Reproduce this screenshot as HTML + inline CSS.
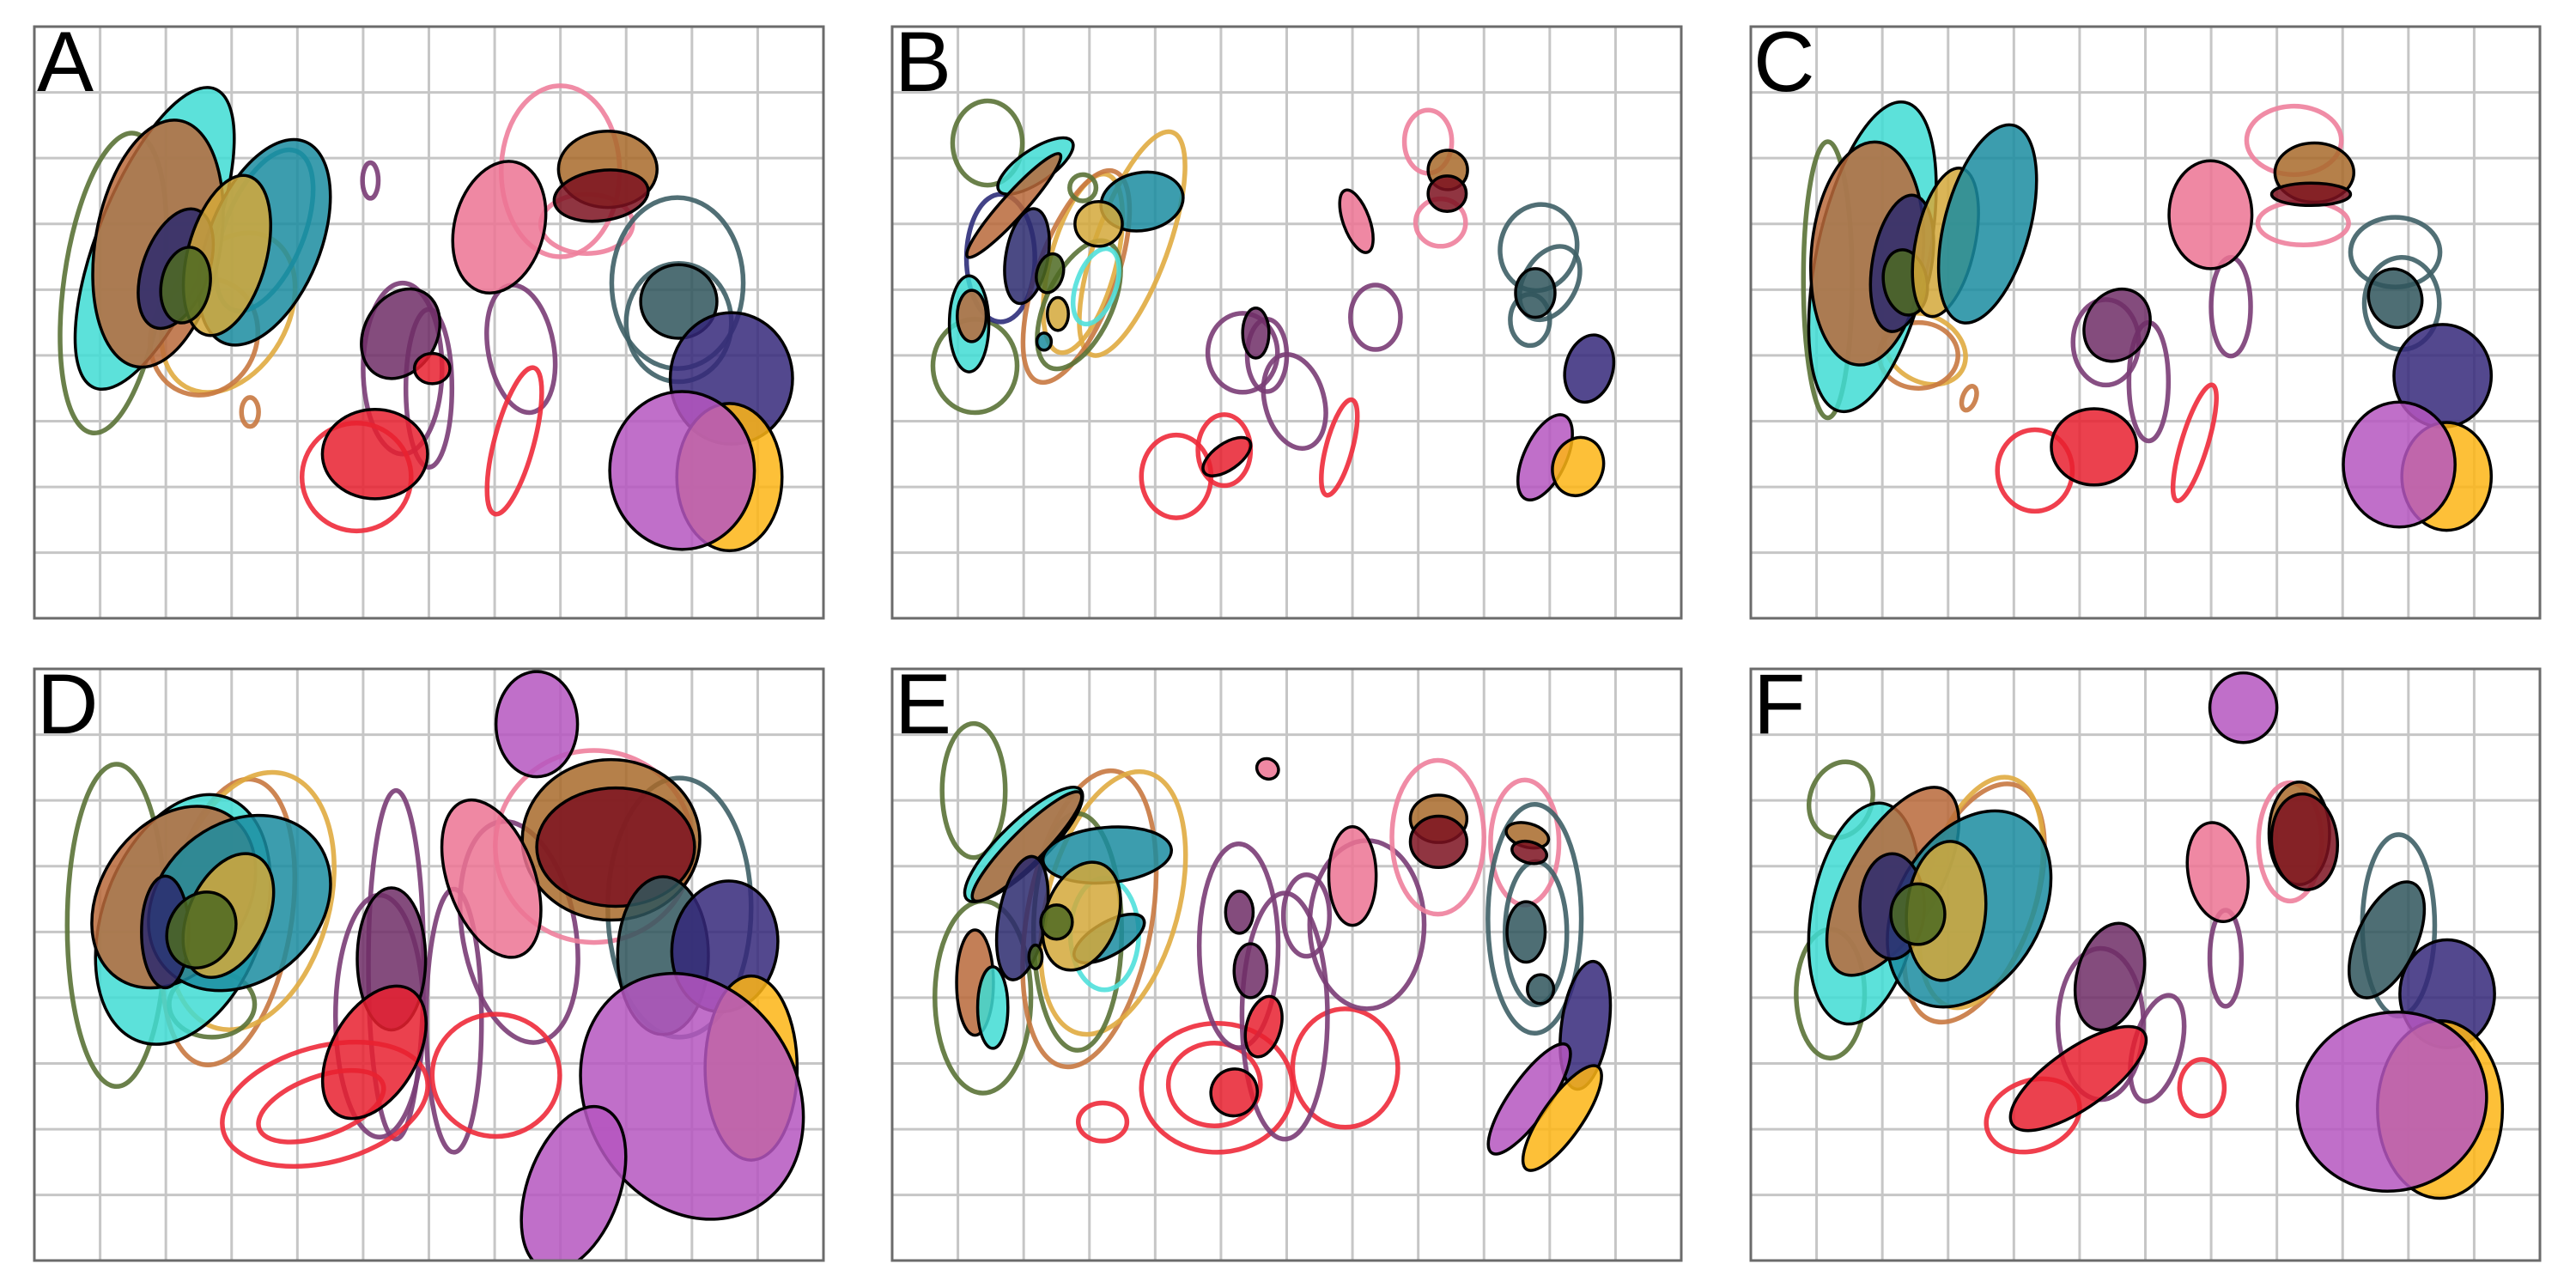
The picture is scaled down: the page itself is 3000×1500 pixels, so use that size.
<!DOCTYPE html>
<html><head><meta charset="utf-8"><style>
html,body{margin:0;padding:0;background:#fff;}
svg{display:block;}
</style></head><body>
<svg id="fig" xmlns="http://www.w3.org/2000/svg" width="3000" height="1500" viewBox="0 0 3000 1500">
<rect width="3000" height="1500" fill="#fff"/>
</svg>
<script>
// Blob data per panel: [color, cx, cy, rx, ry, rotationDeg] in grid units (12 x 9 grid)
const panelLabels = ["A","B","C","D","E","F"];
const panelA_fill = [
 ["cy",1.83,3.22,0.85,2.45,22],["br",1.88,3.3,0.95,1.9,10],["te",3.5,3.28,0.85,1.65,22],
 ["nv",2.15,3.68,0.5,0.95,20],["go",2.93,3.48,0.6,1.25,15],["ol",2.3,3.93,0.37,0.58,10],
 ["pu",5.57,4.67,0.55,0.72,30],["rd",6.05,5.2,0.27,0.23,0],["rd",5.18,6.5,0.8,0.68,0],
 ["pk",7.07,3.05,0.68,1.02,15],["tb",8.72,2.17,0.75,0.58,0],["dr",8.62,2.57,0.72,0.38,-8],
 ["sl",9.8,4.18,0.58,0.56,0],["sb",10.6,5.35,0.93,1.0,0],["gd",10.57,6.85,0.8,1.12,0],["or",9.85,6.75,1.1,1.2,0]];
const panelA_line = [
 ["ol",1.2,3.9,0.75,2.3,8],["go",2.95,4.35,0.9,1.3,30],["cp",2.58,4.72,0.8,0.9,25],["te",3.5,3.1,0.6,1.3,22],
 ["cp",3.28,5.86,0.13,0.22,0],["pu",5.11,2.34,0.12,0.27,0],["pu",5.6,5.2,0.6,1.3,0],["pu",6.0,5.5,0.35,1.2,0],
 ["pu",7.4,4.9,0.5,0.98,-10],["rd",4.9,6.85,0.83,0.82,0],["rd",7.3,6.3,0.3,1.15,15],
 ["pk",8.0,2.2,0.9,1.3,0],["pk",8.4,3.0,0.7,0.45,0],["sl",9.78,3.9,1.0,1.3,0],["sl",9.8,4.5,0.8,0.9,0]];
const panelB_fill = [
 ["cy",2.18,2.12,0.67,0.25,-34],["br",1.85,2.72,1.05,0.18,-48],["nv",2.05,3.49,0.32,0.73,10],
 ["cy",1.17,4.52,0.3,0.73,0],["br",1.21,4.4,0.22,0.39,0],["ol",2.4,3.75,0.2,0.3,15],
 ["go",2.52,4.37,0.16,0.25,0],["te",2.31,4.79,0.11,0.13,0],["te",3.8,2.66,0.63,0.44,-10],["go",3.14,3.0,0.36,0.34,0],
 ["tb",8.45,2.18,0.3,0.3,0],["dr",8.44,2.54,0.29,0.27,0],["pk",7.06,2.96,0.2,0.5,-20],["pu",5.53,4.66,0.2,0.38,0],
 ["rd",5.09,6.54,0.42,0.2,-35],["sl",9.78,4.05,0.3,0.37,0],["sb",10.6,5.2,0.36,0.52,15],
 ["or",9.93,6.55,0.32,0.7,25],["gd",10.43,6.69,0.38,0.45,20]];
const panelB_line = [
 ["ol",1.45,1.77,0.53,0.64,0],["ol",1.26,5.16,0.64,0.71,0],["nv",1.65,3.52,0.52,0.97,0],
 ["go",3.65,3.3,0.55,1.8,20],["go",2.9,3.6,0.5,1.4,15],["cp",2.8,3.8,0.6,1.7,20],["ol",2.84,4.23,0.5,1.05,25],
 ["cy",3.1,3.95,0.3,0.6,20],["ol",2.9,2.45,0.2,0.2,0],["pk",8.15,1.75,0.36,0.48,0],["pk",8.34,2.98,0.38,0.36,0],
 ["pu",5.33,4.96,0.53,0.6,0],["pu",5.7,5.0,0.3,0.55,0],["pu",6.12,5.7,0.45,0.73,-15],["pu",7.35,4.42,0.38,0.49,0],
 ["rd",4.32,6.84,0.53,0.63,0],["rd",5.05,6.44,0.4,0.54,0],["rd",6.8,6.4,0.2,0.75,15],
 ["sl",9.83,3.36,0.58,0.66,15],["sl",10.0,3.9,0.4,0.6,30],["sl",9.7,4.46,0.3,0.39,0]];
const panelC_fill = [
 ["cy",1.85,3.5,0.85,2.4,12],["br",1.77,3.45,0.85,1.7,5],["nv",2.3,3.6,0.45,1.05,10],["ol",2.35,3.89,0.33,0.5,-10],
 ["go",2.96,3.28,0.45,1.15,12],["te",3.6,3.0,0.65,1.55,15],["pk",6.99,2.86,0.63,0.82,0],["tb",8.57,2.22,0.6,0.45,0],
 ["dr",8.52,2.55,0.6,0.17,0],["pu",5.57,4.54,0.48,0.57,30],["rd",5.22,6.39,0.65,0.58,0],["sl",9.8,4.13,0.4,0.45,-20],
 ["sb",10.52,5.31,0.74,0.78,0],["gd",10.58,6.84,0.68,0.82,0],["or",9.86,6.66,0.85,0.95,0]];
const panelC_line = [
 ["ol",1.17,3.85,0.37,2.1,0],["go",2.65,4.9,0.65,0.5,30],["cp",2.55,5.0,0.6,0.5,0],["cp",3.32,5.65,0.1,0.19,20],
 ["pu",5.4,4.8,0.5,0.65,0],["pu",6.05,5.4,0.3,0.9,0],["pu",7.3,4.26,0.3,0.75,0],["rd",4.32,6.75,0.57,0.62,0],
 ["rd",6.75,6.33,0.2,0.92,17],["pk",8.26,1.73,0.72,0.52,0],["pk",8.4,2.99,0.69,0.33,0],
 ["sl",9.8,3.43,0.68,0.53,0],["sl",9.9,4.21,0.57,0.7,0]];
const panelD_fill = [
 ["cy",2.26,3.81,1.22,1.97,20],["br",2.12,3.47,1.1,1.5,35],["te",3.12,3.56,1.5,1.2,-40],["nv",1.99,4.0,0.36,0.85,0],
 ["go",2.95,3.75,0.6,1.0,25],["ol",2.54,3.97,0.5,0.6,30],["or",7.64,0.84,0.62,0.8,0],["tb",8.77,2.6,1.35,1.22,0],
 ["dr",8.84,2.71,1.2,0.9,0],["pk",6.95,3.19,0.66,1.25,-20],["pu",5.43,4.41,0.52,1.08,0],["rd",5.17,5.83,0.65,1.1,30],
 ["sl",9.56,4.36,0.69,1.2,0],["sb",10.5,4.22,0.8,1.0,10],["gd",10.9,6.07,0.7,1.4,0],
 ["or",10.0,6.5,1.6,1.95,-30],["or",8.2,7.9,0.7,1.3,20]];
const panelD_line = [
 ["ol",1.25,3.9,0.75,2.45,0],["cp",2.95,3.85,0.95,2.2,10],["go",3.29,3.53,1.2,2.0,15],["ol",2.7,5.1,0.65,0.5,0],
 ["pu",5.5,4.5,0.42,2.65,0],["pu",5.25,5.28,0.67,1.84,0],["pu",6.38,5.35,0.42,2.0,0],["pu",7.37,4.0,0.86,1.7,-10],
 ["rd",4.42,6.62,1.6,0.88,-15],["rd",4.36,6.65,1.0,0.45,-20],["rd",7.02,6.18,0.97,0.93,0],
 ["pk",8.51,2.7,1.5,1.46,0],["sl",9.81,3.63,1.09,1.97,0]];
const panelE_fill = [
 ["cy",2.0,2.67,1.2,0.35,-44],["br",2.05,2.7,1.15,0.25,-45],["nv",1.98,3.79,0.36,0.95,10],["te",3.27,2.83,0.98,0.42,-5],
 ["te",3.3,4.1,0.6,0.25,-30],["go",2.88,3.76,0.55,0.85,20],["ol",2.5,3.85,0.24,0.26,0],["ol",2.18,4.38,0.1,0.18,0],
 ["br",1.26,4.77,0.28,0.8,0],["cy",1.53,5.15,0.23,0.62,0],["pk",5.71,1.52,0.17,0.15,30],["pk",7.0,3.15,0.36,0.75,0],
 ["tb",8.31,2.28,0.43,0.36,0],["dr",8.31,2.63,0.43,0.39,0],["tb",9.66,2.53,0.33,0.18,15],["dr",9.69,2.79,0.27,0.16,15],
 ["pu",5.28,3.7,0.21,0.32,0],["pu",5.45,4.59,0.25,0.41,0],["rd",5.65,5.44,0.26,0.47,15],["rd",5.2,6.44,0.35,0.36,35],
 ["sl",9.64,4.0,0.29,0.46,0],["sl",9.86,4.87,0.2,0.22,0],["sb",10.54,5.42,0.36,0.98,8],
 ["or",9.69,6.54,0.3,1.0,35],["gd",10.19,6.83,0.3,0.95,35]];
const panelE_line = [
 ["ol",1.24,1.85,0.48,1.02,0],["ol",1.38,4.99,0.73,1.46,0],["cp",3.0,3.8,0.95,2.28,10],["go",3.36,3.56,1.0,2.05,15],
 ["ol",2.82,4.0,0.67,1.8,0],["cy",3.23,4.03,0.52,0.85,0],["rd",3.2,6.89,0.37,0.29,0],["rd",4.94,6.37,1.15,0.98,0],
 ["rd",4.9,6.32,0.7,0.63,0],["rd",6.89,6.07,0.8,0.9,0],["pu",5.27,4.21,0.6,1.55,0],["pu",5.97,5.28,0.65,1.87,0],
 ["pu",7.22,3.89,0.87,1.28,0],["pu",6.3,3.75,0.35,0.62,0],["pk",8.3,2.56,0.7,1.17,0],["pk",9.62,2.64,0.52,0.95,0],
 ["sl",9.77,3.8,0.71,1.74,0],["sl",9.79,4.02,0.47,1.09,0]];
const panelF_fill = [
 ["or",7.49,0.59,0.51,0.53,0],["cy",1.72,3.72,0.8,1.7,10],["br",2.16,3.23,0.7,1.6,30],["te",3.32,3.65,1.1,1.6,30],
 ["nv",2.15,3.61,0.49,0.8,0],["go",2.97,3.68,0.6,1.06,5],["ol",2.54,3.73,0.41,0.46,0],["pk",7.1,3.09,0.45,0.76,-10],
 ["tb",8.34,2.5,0.46,0.78,0],["dr",8.42,2.63,0.5,0.73,-5],["pu",5.46,4.68,0.5,0.83,15],["rd",4.98,6.23,1.22,0.45,-35],
 ["sl",9.67,4.12,0.45,0.95,25],["sb",10.59,4.94,0.72,0.82,0],["gd",10.48,6.7,0.95,1.35,0],["or",9.75,6.58,1.45,1.35,-20]];
const panelF_line = [
 ["ol",1.37,1.99,0.47,0.59,20],["ol",1.21,4.94,0.52,0.98,0],["cp",3.4,3.56,0.9,1.9,20],["go",3.5,3.4,0.85,1.8,15],
 ["pk",8.2,2.63,0.48,0.9,0],["pu",5.32,5.4,0.65,1.15,0],["pu",6.18,5.77,0.36,0.83,15],["pu",7.22,4.4,0.24,0.73,0],
 ["rd",4.29,6.79,0.73,0.53,-20],["rd",6.86,6.37,0.34,0.43,0],["sl",9.85,3.9,0.55,1.38,0]];

const fillColors = {cy:"#3FDCD4",br:"#B8693A",nv:"#2B2A6F",ol:"#4E6A22",go:"#D4A83A",te:"#1A8CA0",pu:"#6E2D66",
 rd:"#E8202F",pk:"#EC7393",tb:"#A86A2A",dr:"#7C1220",sl:"#2F555C",sb:"#35287A",or:"#B556C0",gd:"#FDB515"};
const lineColors = {ol:"#5A7236",cp:"#C87840",go:"#E0AB40",pu:"#7A3C76",rd:"#EE2A3A",pk:"#EE7F9C",sl:"#3E5F66",
 nv:"#2E2E7A",cy:"#50E0DC",te:"#1A8CA0"};

const panels = [
 {fill:panelA_fill,line:panelA_line},{fill:panelB_fill,line:panelB_line},{fill:panelC_fill,line:panelC_line},
 {fill:panelD_fill,line:panelD_line},{fill:panelE_fill,line:panelE_line},{fill:panelF_fill,line:panelF_line}];

const NS="http://www.w3.org/2000/svg";
const svg=document.getElementById('fig');
const X0=[40,1039,2039], Y0=[31,779], CELL=919/12, W=919, H=689;
function mk(t,a){const e=document.createElementNS(NS,t);for(const k in a)e.setAttribute(k,a[k]);return e;}
const defs=mk('defs',{});svg.appendChild(defs);

panels.forEach((p,i)=>{
  const ox=X0[i%3], oy=Y0[Math.floor(i/3)];
  const xs=v=>ox+v*CELL, ys=v=>oy+v*CELL, ss=v=>v*CELL;
  const g=mk('g',{});
  
  
  svg.appendChild(g);
  const cp=mk('clipPath',{id:'clip'+i});cp.appendChild(mk('rect',{x:ox,y:oy,width:W,height:H}));defs.appendChild(cp);
  const grid=mk('g',{stroke:'#c6c6c6','stroke-width':3});
  
  
  for(let k=1;k<12;k++)grid.appendChild(mk('line',{x1:xs(k),x2:xs(k),y1:oy,y2:oy+H}));
  for(let k=1;k<9;k++)grid.appendChild(mk('line',{y1:ys(k),y2:ys(k),x1:ox,x2:ox+W}));
  g.appendChild(grid);
  const body=mk('g',{'clip-path':'url(#clip'+i+')'});g.appendChild(body);
  p.line.forEach(b=>{
    const e=mk('ellipse',{cx:xs(b[1]),cy:ys(b[2]),rx:ss(b[3]),ry:ss(b[4]),fill:'none',stroke:lineColors[b[0]],
      'stroke-width':5.5,'stroke-opacity':0.9,transform:`rotate(${b[5]} ${xs(b[1])} ${ys(b[2])})`});
    
    
    body.appendChild(e);
  });
  p.fill.forEach(b=>{
    const e=mk('ellipse',{cx:xs(b[1]),cy:ys(b[2]),rx:ss(b[3]),ry:ss(b[4]),fill:fillColors[b[0]],'fill-opacity':0.85,
      stroke:'#000','stroke-width':3.5,transform:`rotate(${b[5]} ${xs(b[1])} ${ys(b[2])})`});
    
    
    body.appendChild(e);
  });
  const fr=mk('rect',{x:ox,y:oy,width:W,height:H,fill:'none',stroke:'#6b6b6b','stroke-width':3});
  
  
  g.appendChild(fr);
  const t=mk('text',{x:ox+3,y:oy+75,'font-family':'Liberation Sans, sans-serif','font-size':99,fill:'#000'});
  t.textContent=panelLabels[i];
  
  
  g.appendChild(t);
});
</script>
</body></html>
